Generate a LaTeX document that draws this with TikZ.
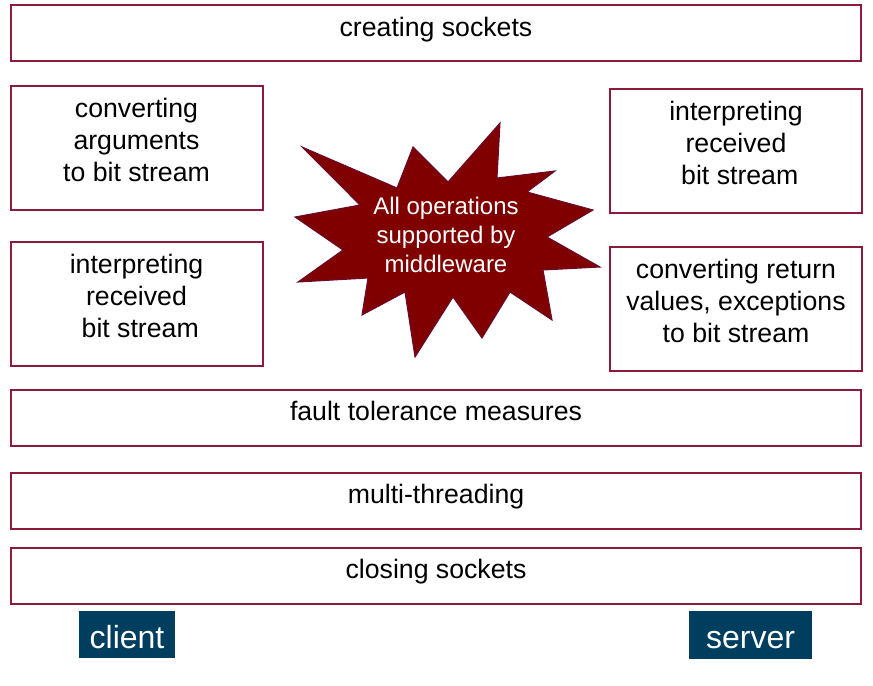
\documentclass[tikz,border=0pt]{standalone}
\usepackage{fontspec}
\setmainfont{Liberation Sans}
\usepackage{xcolor}
\usepackage{tikz}
\usetikzlibrary{positioning,calc}
\definecolor{boxred}{RGB}{140,26,60}
\definecolor{starred}{RGB}{128,0,0}
\definecolor{staredge}{RGB}{105,12,48}
\definecolor{roleblue}{RGB}{0,62,96}

\begin{document}
\begin{tikzpicture}[x=0.75pt, y=-0.75pt, thick,
    layer/.style={draw=boxred, line width=1.5pt, minimum width=638pt, minimum height=42pt,
        text depth=10pt, font=\fontsize{20}{24}\selectfont},
    task/.style={draw=boxred, line width=1.5pt, minimum width=189pt, minimum height=93pt,
        align=center, text depth=12pt, font=\fontsize{20}{24}\selectfont},
    role/.style={fill=roleblue, text=white, inner sep=0pt, text height=20.5pt, text depth=0pt,
        font=\fontsize{24}{28}\selectfont},
    burst/.style={fill=starred, draw=staredge, line width=0.8pt, line join=miter}]
    \useasboundingbox (0,0) rectangle (873,685);

    \node [layer] (create) at (436, 33.5) {creating sockets};

    \node [task] (marshal) at (136.5, 148) {converting\\arguments\\to bit stream};
    \node [task] (unmarshalc) at (136.5, 304) {interpreting\\received\\\hspace*{0.28em}bit stream};
    \node [task] (unmarshals) at (736, 150.5) {interpreting\\received\\\hspace*{0.28em}bit stream};
    \node [task] (marshalret) at (736, 308.5) {converting return\\values, exceptions\\to bit stream};

    \draw [burst] (500,123) -- (497,178) -- (555,171) -- (527,192) -- (593,210) -- (547,237)
        -- (600,267) -- (543,270) -- (552,320) -- (510,292) -- (482,338) -- (453,297)
        -- (415,357) -- (405,292) -- (362,315) -- (368,278) -- (298,282) -- (343,250)
        -- (295,217) -- (360,205) -- (302,147) -- (397,188) -- (413,147) -- (448,182) -- cycle;
    \node [text=white, align=center, font=\fontsize{18}{22}\selectfont] (mw) at (446, 235)
        {All operations\\supported by\\middleware};

    \node [layer] (fault) at (436, 417.5) {fault tolerance measures};
    \node [layer] (threads) at (436, 500.5) {multi-threading};
    \node [layer] (close) at (436, 575.5) {closing sockets};

    \node [role, minimum width=72pt, minimum height=35pt] (client) at (127, 634.5) {client};
    \node [role, minimum width=92pt, minimum height=36pt] (server) at (750.5, 635) {server};
\end{tikzpicture}
\end{document}
